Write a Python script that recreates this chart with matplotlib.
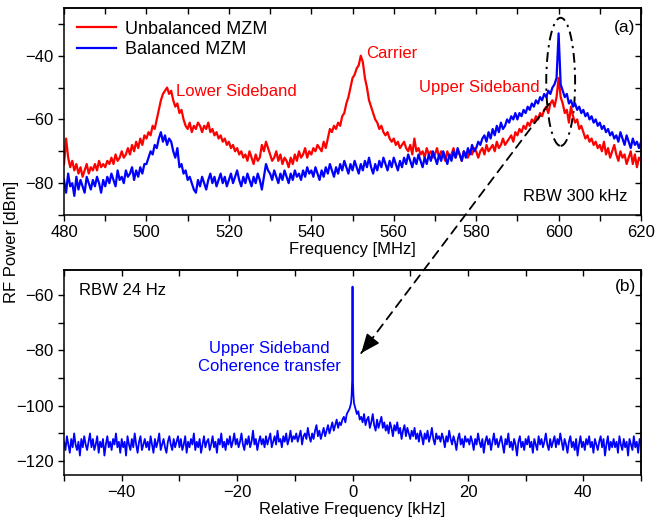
import matplotlib
matplotlib.use("Agg")
import matplotlib.pyplot as plt
import numpy as np
from matplotlib.patches import Ellipse, ConnectionPatch
from matplotlib.ticker import MultipleLocator, NullFormatter

plt.rcParams["font.family"] = ["Liberation Sans", "DejaVu Sans"]
plt.rcParams["font.size"] = 11.5

# (a) wide span, 0.5 MHz steps from 480 to 620 MHz
freq_mhz = np.arange(480.0, 620.25, 0.5)
unbalanced_dbm = [
    -74, -66, -72, -75, -73, -76, -74, -77, -75, -78, -76, -74, -77, -75, -76, -74, -76, -73, -75, -74,
    -75, -73, -74, -72, -74, -71, -73, -72, -70, -72, -71, -69, -71, -68, -70, -67, -69, -66, -68, -65,
    -66, -64, -65, -62, -63, -60, -57, -54, -52, -51, -50, -52, -51, -54, -56, -55, -58, -57, -60, -62,
    -63, -61, -64, -62, -63, -61, -62, -64, -62, -63, -61, -64, -63, -65, -64, -66, -65, -67, -66, -68,
    -67, -69, -68, -70, -69, -71, -70, -72, -71, -73, -70, -72, -74, -71, -73, -72, -68, -70, -67, -69,
    -71, -73, -72, -70, -73, -71, -74, -72, -73, -75, -72, -74, -71, -73, -70, -72, -71, -69, -72, -70,
    -71, -69, -70, -68, -69, -70, -67, -69, -66, -63, -64, -62, -63, -61, -62, -59, -58, -55, -53, -50,
    -47, -46, -44, -43, -40, -42, -47, -50, -54, -56, -58, -60, -61, -63, -62, -64, -65, -64, -66, -67,
    -66, -68, -67, -69, -68, -67, -69, -70, -68, -71, -66, -70, -69, -71, -70, -72, -69, -71, -70, -72,
    -71, -69, -72, -70, -71, -73, -70, -72, -71, -69, -72, -70, -71, -73, -70, -71, -72, -70, -71, -69,
    -70, -72, -70, -69, -71, -68, -70, -69, -68, -70, -67, -69, -68, -66, -68, -67, -66, -65, -67, -64,
    -65, -63, -64, -62, -63, -61, -62, -60, -61, -59, -60, -58, -59, -57, -56, -58, -55, -54, -56, -53,
    -47, -53, -55, -58, -57, -61, -56, -59, -61, -60, -63, -62, -64, -66, -65, -67, -66, -68, -67, -69,
    -68, -70, -67, -71, -69, -72, -70, -68, -71, -73, -70, -72, -71, -74, -72, -70, -74, -71, -75, -72,
    -73,
]
balanced_dbm = [
    -79, -83, -77, -81, -80, -84, -78, -82, -79, -81, -83, -78, -80, -82, -79, -81, -78, -80, -83, -79,
    -81, -78, -80, -77, -79, -81, -76, -79, -78, -80, -76, -78, -77, -75, -79, -76, -78, -75, -77, -74,
    -74, -72, -70, -71, -68, -69, -66, -64, -67, -65, -68, -66, -67, -70, -72, -69, -75, -74, -77, -76,
    -79, -78, -80, -82, -83, -79, -81, -78, -80, -82, -79, -77, -80, -78, -81, -79, -77, -80, -78, -81,
    -79, -77, -80, -78, -76, -79, -81, -78, -80, -77, -79, -81, -78, -80, -77, -79, -82, -78, -74, -76,
    -77, -79, -76, -78, -80, -77, -79, -76, -78, -80, -77, -79, -76, -78, -77, -79, -76, -78, -75, -77,
    -76, -78, -75, -77, -79, -76, -78, -75, -77, -74, -76, -78, -75, -77, -74, -76, -73, -75, -77, -74,
    -76, -73, -75, -77, -74, -76, -73, -75, -72, -75, -77, -74, -76, -73, -75, -72, -74, -76, -73, -75,
    -72, -74, -76, -73, -75, -72, -74, -71, -73, -75, -72, -74, -71, -73, -75, -72, -74, -71, -73, -70,
    -72, -74, -71, -73, -70, -72, -74, -71, -73, -70, -72, -69, -71, -73, -70, -72, -69, -71, -68, -70,
    -69, -67, -68, -66, -65, -67, -64, -66, -63, -65, -62, -64, -61, -63, -62, -60, -61, -59, -60, -58,
    -60, -58, -59, -57, -58, -56, -57, -55, -56, -54, -55, -53, -54, -52, -53, -51, -52, -50, -49, -47,
    -33, -49, -51, -53, -52, -55, -54, -56, -55, -57, -56, -58, -57, -59, -58, -60, -59, -61, -60, -62,
    -61, -63, -62, -64, -63, -65, -64, -66, -65, -67, -64, -66, -68, -65, -67, -69, -66, -68, -67, -69,
    -67,
]

# (b) narrow span around the upper sideband, 0.25 kHz steps from -50 to 50 kHz
rel_khz = np.arange(-50.0, 50.125, 0.25)
sideband_dbm = [
    -113, -116, -111, -114, -117, -112, -115, -110, -114, -116, -113, -118, -112, -115, -111, -114, -116, -113, -110, -115,
    -112, -116, -114, -111, -117, -113, -115, -112, -118, -114, -111, -115, -113, -116, -112, -114, -110, -115, -113, -117,
    -112, -115, -113, -118, -111, -114, -116, -112, -115, -110, -114, -117, -113, -111, -116, -114, -112, -115, -113, -116,
    -111, -114, -117, -112, -115, -113, -110, -116, -114, -112, -115, -117, -113, -111, -114, -116, -112, -115, -113, -111,
    -115, -112, -116, -114, -111, -117, -113, -115, -112, -114, -110, -116, -113, -115, -112, -117, -114, -111, -115, -113,
    -112, -116, -114, -111, -115, -113, -117, -112, -114, -110, -115, -113, -116, -112, -114, -111, -115, -113, -110, -114,
    -112, -115, -113, -110, -114, -116, -112, -114, -111, -115, -113, -109, -114, -112, -116, -113, -111, -114, -112, -115,
    -111, -114, -112, -110, -115, -113, -111, -114, -109, -113, -112, -115, -111, -113, -110, -114, -112, -109, -113, -111,
    -112, -110, -113, -111, -109, -114, -111, -110, -112, -108, -111, -113, -110, -112, -109, -107, -111, -109, -112, -110,
    -108, -111, -109, -107, -110, -108, -106, -109, -107, -105, -108, -106, -107, -105, -104, -106, -103, -102, -101, -99,
    -57,
    -99, -101, -103, -102, -105, -104, -106, -103, -107, -105, -104, -108, -106, -103, -107, -109, -105, -108, -106, -104,
    -108, -106, -109, -107, -110, -106, -108, -111, -107, -109, -106, -110, -108, -112, -109, -107, -111, -108, -110, -112,
    -109, -111, -108, -112, -110, -113, -109, -111, -114, -110, -112, -109, -113, -111, -108, -112, -114, -110, -112, -111,
    -113, -110, -112, -115, -111, -113, -109, -112, -114, -111, -113, -116, -112, -110, -114, -112, -115, -111, -113, -112,
    -114, -111, -113, -116, -112, -114, -110, -113, -115, -112, -117, -113, -111, -114, -112, -116, -113, -110, -114, -112,
    -115, -113, -111, -114, -117, -112, -114, -110, -115, -113, -116, -112, -114, -118, -113, -111, -115, -113, -116, -112,
    -114, -111, -115, -113, -117, -112, -114, -116, -111, -114, -112, -115, -113, -110, -114, -116, -112, -115, -113, -111,
    -115, -112, -114, -110, -113, -116, -112, -114, -117, -113, -111, -115, -113, -116, -112, -118, -114, -111, -115, -113,
    -116, -112, -114, -111, -115, -113, -117, -112, -114, -116, -113, -111, -115, -112, -118, -114, -111, -116, -113, -115,
    -112, -115, -113, -117, -111, -114, -116, -112, -115, -113, -118, -112, -114, -116, -111, -115, -113, -117, -112, -114,
]
# extra points on the foot of the narrow line
peak_khz = [-0.15, -0.05, 0.05, 0.15]
peak_dbm = [-96, -90, -90, -96]

RED = "#ff0000"
BLUE = "#0000ff"


def style_axes(ax, xmaj, xmin, ymaj, ymin):
    for spine in ax.spines.values():
        spine.set_linewidth(1.1)
    ax.xaxis.set_major_locator(MultipleLocator(xmaj))
    ax.xaxis.set_minor_locator(MultipleLocator(xmin))
    ax.yaxis.set_major_locator(MultipleLocator(ymaj))
    ax.yaxis.set_minor_locator(MultipleLocator(ymin))
    ax.tick_params(which="both", direction="out", length=4, width=1.0,
                   top=False, right=False, labelsize=12)
    top = ax.secondary_xaxis("top")
    top.xaxis.set_major_locator(MultipleLocator(xmaj))
    top.xaxis.set_minor_locator(MultipleLocator(xmin))
    top.xaxis.set_major_formatter(NullFormatter())
    top.tick_params(which="both", direction="in", length=4, width=1.0)
    right = ax.secondary_yaxis("right")
    right.yaxis.set_major_locator(MultipleLocator(ymaj))
    right.yaxis.set_minor_locator(MultipleLocator(ymin))
    right.yaxis.set_major_formatter(NullFormatter())
    right.tick_params(which="both", direction="in", length=4, width=1.0)
    for sec in (top, right):
        for spine in sec.spines.values():
            spine.set_linewidth(1.1)


fig = plt.figure(figsize=(6.56, 5.27), dpi=100)
ax1 = fig.add_axes([0.0976, 0.592, 0.8796, 0.393])
ax2 = fig.add_axes([0.0976, 0.0987, 0.8796, 0.389])

# panel (a)
ax1.plot(freq_mhz, unbalanced_dbm, color=RED, lw=1.6, label="Unbalanced MZM")
ax1.plot(freq_mhz, balanced_dbm, color=BLUE, lw=1.6, label="Balanced MZM")
ax1.set_xlim(480, 620)
ax1.set_ylim(-90, -25)
style_axes(ax1, 20, 10, 20, 10)
ax1.set_xlabel("Frequency [MHz]", fontsize=12, labelpad=1)
ax1.legend(loc="upper left", bbox_to_anchor=(0.0, 1.0), frameon=False, fontsize=13,
           handlelength=2.2, handletextpad=0.45, labelspacing=0.2, borderaxespad=0.3)
ax1.text(507.2, -51.3, "Lower Sideband", color=RED, va="center", ha="left", fontsize=12)
ax1.text(553.3, -39.4, "Carrier", color=RED, va="center", ha="left", fontsize=12)
ax1.text(595.3, -50.1, "Upper Sideband", color=RED, va="center", ha="right", fontsize=12)
ax1.text(591.4, -84.3, "RBW 300 kHz", va="center", ha="left", fontsize=12)
ax1.text(0.99, 0.903, "(a)", transform=ax1.transAxes, va="center", ha="right", fontsize=12.5)
ax1.add_patch(Ellipse((600.5, -48.2), 7.0, 40.2, fill=False, color="black",
                      lw=1.4, linestyle=(0, (5, 2.5, 1.2, 2.5))))

# panel (b)
x_b = np.concatenate([rel_khz, peak_khz])
y_b = np.concatenate([sideband_dbm, peak_dbm])
order = np.argsort(x_b)
ax2.plot(x_b[order], y_b[order], color=BLUE, lw=1.3)
ax2.set_xlim(-50, 50)
ax2.set_ylim(-125, -51)
style_axes(ax2, 20, 10, 20, 10)
ax2.set_xlabel("Relative Frequency [kHz]", fontsize=12, labelpad=1)
ax2.text(0.026, 0.902, "RBW 24 Hz", transform=ax2.transAxes, va="center", ha="left", fontsize=12)
ax2.text(0.991, 0.917, "(b)", transform=ax2.transAxes, va="center", ha="right", fontsize=12.5)
ax2.text(-14.4, -82.7, "Upper Sideband\nCoherence transfer", color=BLUE,
         ha="center", va="center", linespacing=1.25, fontsize=12)

fig.text(0.018, 0.54, "RF Power [dBm]", rotation=90, va="center", ha="center", fontsize=12)

# dashed arrow from the circled line in (a) to the zoom in (b)
con = ConnectionPatch(xyA=(597.7, -55.1), coordsA=ax1.transData,
                      xyB=(1.5, -81.0), coordsB=ax2.transData,
                      arrowstyle="-", color="black", lw=1.3, linestyle=(0, (5, 3.5)))
fig.add_artist(con)
ax2.annotate("", xy=(1.5, -81.0), xytext=(2.81, -77.6),
             arrowprops=dict(arrowstyle="-|>,head_length=0.6,head_width=0.25",
                             mutation_scale=20, color="black", lw=1.0,
                             shrinkA=0, shrinkB=0),
             annotation_clip=False)

fig.savefig("out.png", dpi=100)
